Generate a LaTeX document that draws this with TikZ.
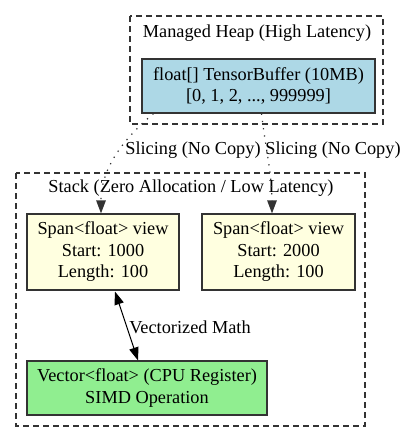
\documentclass[tikz,border=0pt]{standalone}
\usepackage{fontspec}
\setmainfont{Liberation Serif}
\usetikzlibrary{arrows.meta}
\definecolor{bluefill}{HTML}{ADD8E6}
\definecolor{yellowfill}{HTML}{FFFFE0}
\definecolor{greenfill}{HTML}{90EE90}
\definecolor{linecol}{HTML}{333333}
\tikzset{
  x=1pt, y=1pt,
  every node/.style={font=\fontsize{18.3}{21.5}\selectfont, align=center, inner sep=0pt},
  boxnode/.style={draw=linecol, line width=1.2pt, rectangle},
  cluster/.style={draw=linecol, line width=1.2pt, dash pattern=on 6pt off 4pt},
  dotedge/.style={draw=linecol, line width=1.2pt, dash pattern=on 1.3pt off 6pt, -{Triangle[length=13pt,width=9.5pt]}},
  solidedge/.style={draw=black, line width=1.0pt, {Triangle[length=13pt,width=9.5pt]}-{Triangle[length=13pt,width=9.5pt]}},
  lbl/.style={font=\fontsize{18.3}{21.5}\selectfont}
}
\begin{document}
\begin{tikzpicture}
\useasboundingbox (0,0) rectangle (406,-442);
% clusters
\draw[cluster] (130,-16) rectangle (383,-124);
\node[lbl] (heaplabel) at (257,-33) {Managed Heap (High Latency)};
\draw[cluster] (16,-173) rectangle (365,-426);
\node[lbl] (stacklabel) at (191,-188) {Stack (Zero Allocation / Low Latency)};
% nodes
\node[boxnode, fill=bluefill, minimum width=233pt, minimum height=54pt] (tensor) at (258.5,-86) {float[] TensorBuffer (10MB)\\{}[0, 1, 2, ..., 999999]};
\node[boxnode, fill=yellowfill, minimum width=152pt, minimum height=76pt] (span1) at (103,-252) {Span<float> view\\Start: 1000\\Length: 100};
\node[boxnode, fill=yellowfill, minimum width=153pt, minimum height=76pt] (span2) at (278.5,-252) {Span<float> view\\Start: 2000\\Length: 100};
\node[boxnode, fill=greenfill, minimum width=240pt, minimum height=54pt] (vector) at (147,-388) {Vector<float> (CPU Register)\\SIMD Operation};
% edges
\draw[dotedge] ([xshift=-105pt]tensor.south) .. controls +(-30,-25) and +(0,45) .. ([xshift=-2pt]span1.north);
\draw[dotedge] ([xshift=3pt]tensor.south) .. controls +(4,-35) and +(0,40) .. ([xshift=-6.5pt]span2.north);
\node[lbl] (slice1) at (193,-150) {Slicing (No Copy)};
\node[lbl] (slice2) at (333,-150) {Slicing (No Copy)};
\draw[solidedge] ([xshift=12pt,yshift=-1pt]span1.south) -- ([xshift=-9pt]vector.north);
\node[lbl] (vmath) at (190,-327) {Vectorized Math};
\end{tikzpicture}
\end{document}
